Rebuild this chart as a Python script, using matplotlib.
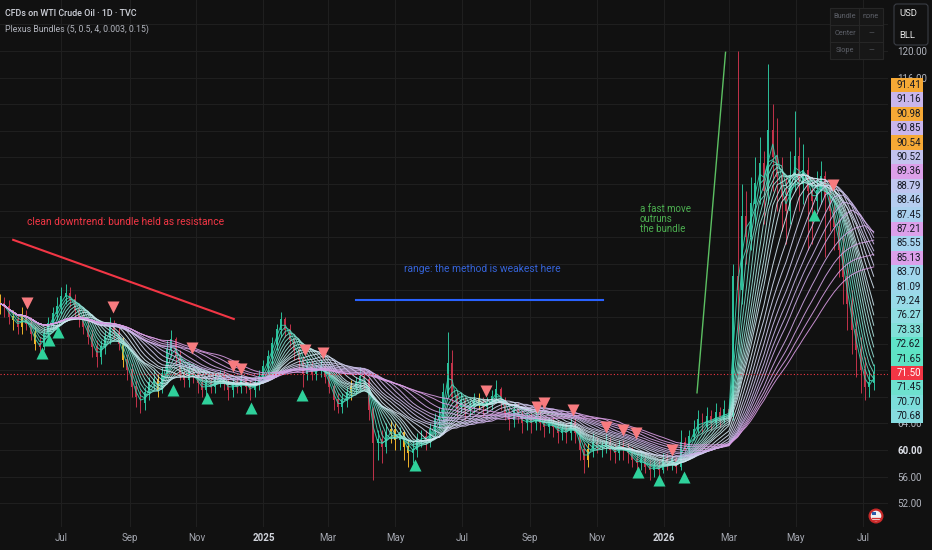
import numpy as np
import pandas as pd
import matplotlib
matplotlib.use("Agg")
import matplotlib.pyplot as plt
import matplotlib.dates as mdates
from matplotlib.colors import LinearSegmentedColormap
from matplotlib.patches import Rectangle, FancyBboxPatch, Circle

plt.rcParams['font.family'] = ['Roboto', 'DejaVu Sans']

# ---- data (one bar every 4 calendar days) ----
start = '2024-05-06'
first_open = 81.5
closes = [
    82, 81.5, 80, 79.5, 78.5, 80, 79, 77.5, 76, 75.5,
    77.5, 79, 80.5, 81.5, 83, 83.5, 82.5, 81, 80, 78.5,
    77, 75.5, 74, 75.5, 77, 78.5, 77.5, 76, 73.5, 72,
    69.5, 68, 67, 68.5, 70, 70.5, 69, 71.5, 75, 76.5,
    74, 71.5, 70.5, 71.5, 71, 70, 69, 70, 69.5, 70.5,
    71, 70, 69, 70, 69.5, 70.5, 69.5, 69, 70, 71,
    72.5, 74, 76, 78, 79.5, 78, 76.5, 75, 73.5, 71.5,
    72.5, 71.5, 72, 72.5, 71, 69.5, 67.5, 66.5, 67.5, 68.5,
    69.5, 70, 71, 70.5, 66, 61, 61.5, 60.5, 62.5, 63,
    61.5, 62.5, 60.5, 59.5, 60, 61.5, 62, 61.5, 63, 64.5,
    65, 68.5, 73, 68, 66.5, 67, 66, 66.5, 67.5, 67,
    66.5, 67, 68, 69, 67, 65.5, 64.5, 66, 65, 64,
    64.5, 64, 65, 64, 63.5, 64, 63.5, 62.5, 63, 62.5,
    64, 62.5, 60, 58.5, 60, 61, 60.5, 60.5, 61, 60,
    59.5, 60.5, 60, 59.5, 58.5, 58, 58.5, 57.5, 57, 57.5,
    57, 58.5, 58, 58.5, 57.5, 61, 60, 62, 63, 64.5,
    63.5, 65, 64, 65.5, 64.5, 66, 65, 86, 84, 95,
    92, 97, 100, 103, 99, 108, 104, 101, 98, 96,
    101, 104, 100, 102, 99, 97.5, 99, 101, 98, 96,
    93.5, 90, 86, 82, 78, 75, 72, 69.5, 70, 71.5]
highs = [
    83.5, 83, 82.5, 81, 80.5, 81.5, 81, 80, 78.5, 77,
    78.5, 80, 81.5, 83, 84.5, 85, 84.5, 83.5, 82, 81,
    79.5, 78, 76.5, 76.5, 78, 80, 79.5, 78.5, 77, 74.5,
    73, 70.5, 69, 69.5, 71, 72, 71.5, 72.5, 76.5, 78,
    77, 75, 72.5, 73, 72.5, 72, 71, 71, 71, 71.5,
    72, 72, 71, 71, 71, 71.5, 71, 70.5, 71, 72,
    73.5, 75, 77, 79, 80.7, 80, 79, 77, 75.5, 74,
    73.5, 73.5, 73, 73.5, 73, 72, 70, 68.5, 68.5, 69.5,
    70.5, 71, 72.5, 72, 71, 66.5, 63, 63, 64, 64.5,
    64, 63.5, 63, 61.5, 61.5, 62.5, 63, 63, 64, 65.5,
    66.5, 70, 77.7, 75, 69, 68.5, 68, 67.5, 68.5, 68.5,
    68, 68, 69, 70.5, 69.5, 68, 66.5, 67, 67, 66,
    65.5, 65.5, 66, 66, 65, 65, 65, 64.5, 64, 64,
    65, 65, 63, 61, 61, 62.5, 62, 61.5, 62.5, 62,
    61, 61.5, 61.5, 61, 60.5, 59.5, 59.5, 59.5, 58.5, 58.5,
    58.5, 59.5, 59.5, 60, 59, 63, 62, 63, 64.5, 66,
    65.5, 66.5, 66, 67, 66.5, 67.5, 67, 88, 120, 100,
    99, 101, 104, 107, 105, 118, 112, 110, 104, 101,
    105, 111, 107, 106, 104, 101, 102, 103.5, 102, 99.5,
    97, 95, 92, 88, 84, 80, 77, 74, 72, 73]
lows = [
    80.5, 80, 79, 78, 77.5, 77.5, 78, 76.5, 75, 74.5,
    75, 76.5, 78, 79.5, 80.5, 82, 81.5, 80, 78.5, 77.5,
    76, 74, 72.5, 73, 74.5, 76, 76.5, 75, 72.5, 70.5,
    68, 66.5, 65.5, 66, 67.5, 69, 68, 68.5, 71, 74,
    73, 70.5, 69.5, 69.5, 70, 68.5, 68, 68, 68.5, 68.5,
    69.5, 69, 67.5, 68, 68.5, 68.5, 68.5, 67.5, 68, 69,
    70, 71.5, 73, 75, 77, 77, 75.5, 73.5, 72, 69.5,
    70.5, 70.5, 70.5, 71, 70, 68.5, 66, 65.5, 65.5, 66.5,
    67.5, 68.5, 69, 69, 64.5, 55.5, 58.5, 58, 59.5, 61,
    60, 60, 58.5, 57.5, 58, 59, 60.5, 60, 60.5, 62,
    63.5, 64.5, 68, 67, 65, 65.5, 64.5, 65, 65.5, 66,
    65, 65.5, 66, 67, 66, 64.5, 63, 63.5, 64, 62.5,
    63, 62.5, 63, 63, 62, 62.5, 62, 61, 61.5, 61,
    61.5, 61, 58.5, 56.5, 57.5, 59, 59.5, 59, 59.5, 58.5,
    58, 58.5, 58.5, 58, 57.5, 56.5, 57, 56.5, 55.5, 56,
    56, 56.5, 57, 57, 56.5, 57, 59, 59.5, 61.5, 62.5,
    62.5, 63, 63, 63.5, 63.5, 64, 64, 64.5, 76, 82,
    88, 90, 94, 97, 94, 97, 99, 96, 93, 91,
    94, 99, 96, 97, 90, 91, 96, 97, 89, 93,
    90, 86, 82, 78, 74.5, 71, 68.5, 67.5, 68, 69]
orange_bars = [0, 3, 5, 8, 28, 36, 80, 89, 90, 92, 93, 109, 134]

sell_dates = ['2024-05-31', '2024-08-17', '2024-10-28', '2024-12-04', '2024-12-12',
              '2025-02-08', '2025-02-24', '2025-07-23', '2025-09-07', '2025-09-14',
              '2025-10-10', '2025-11-09', '2025-11-25', '2025-12-06', '2026-01-08',
              '2026-06-04']
sell_prices = [82.1, 81.5, 75.3, 72.6, 72.2, 75.0, 74.6, 68.9, 66.5, 67.1,
               66.0, 63.5, 63.0, 62.6, 60.0, 99.8]
buy_dates = ['2024-06-13', '2024-06-20', '2024-06-28', '2024-10-11', '2024-11-11',
             '2024-12-21', '2025-02-05', '2025-05-19', '2025-12-08', '2025-12-27',
             '2026-01-19', '2026-05-18']
buy_prices = [74.6, 76.5, 77.7, 69.0, 67.8, 66.3, 68.3, 57.7, 56.7, 55.5, 55.9, 95.3]

sma_lengths = [2, 3, 4, 5, 6, 7, 8, 9, 10, 11, 12, 14, 16, 18, 20, 22, 24, 26, 28, 31, 34, 37, 40]

last_values = ['91.41', '91.16', '90.98', '90.85', '90.54', '90.52', '89.36', '88.79',
               '88.46', '87.45', '87.21', '85.55', '85.13', '83.70', '81.09', '79.24',
               '76.27', '73.33', '72.62', '71.65', '71.50', '71.45', '70.70', '70.68']
last_colors = ['#f6a935', '#c9b6ec', '#f6a935', '#c9b6ec', '#f6a935', '#c3c3ee', '#dca0ea', '#c0c6f0',
               '#b5cdf0', '#a9d0ee', '#dca0ea', '#a5d3ee', '#dca0ea', '#a0d6ec', '#9cd8ea', '#98dbe8',
               '#90dee3', '#82e0d8', '#5fe3c7', '#5ee3c4', '#f23645', '#6ee1cf', '#7cdedb', '#86dce0']

month_ticks = ['2024-07-01', '2024-09-01', '2024-11-01', '2025-01-01', '2025-03-01', '2025-05-01',
               '2025-07-01', '2025-09-01', '2025-11-01', '2026-01-01', '2026-03-01', '2026-05-01',
               '2026-07-01']
month_labels = ['Jul', 'Sep', 'Nov', '2025', 'Mar', 'May', 'Jul', 'Sep', 'Nov', '2026', 'Mar', 'May', 'Jul']
price_ticks = list(range(52, 125, 4))
# tick labels that sit fully under the value-label column are not shown
hidden_ticks = list(range(68, 113, 4))

BG = '#111111'
UP, DOWN, ORANGE = '#2bbf9a', '#c2334a', '#f0b429'

fig = plt.figure(figsize=(9.32, 5.5), dpi=100)
fig.patch.set_facecolor(BG)
ax = fig.add_axes([0, 23 / 550, 888 / 932, 527 / 550])
ax.set_facecolor(BG)

d = lambda s: mdates.date2num(pd.to_datetime(s))
dates = pd.date_range(start, periods=len(closes), freq='4D')
x = mdates.date2num(dates)
c = np.array(closes)
o = np.array([first_open] + closes[:-1])
col = np.where(c >= o, UP, DOWN).astype(object)
col[orange_bars] = ORANGE

# candles
ax.vlines(x, lows, highs, colors=list(col), lw=0.7, zorder=2)
ax.bar(x, np.abs(c - o) + 0.15, bottom=np.minimum(o, c), width=1.8, color=list(col), lw=0, zorder=2)

# bundle of moving averages
cmap = LinearSegmentedColormap.from_list('bundle', ['#35d0ad', '#9fe3da', '#d6e6f2', '#cbb5ea', '#d99be3'])
s = pd.Series(closes)
for k, n in enumerate(sma_lengths):
    ma = s.rolling(n, min_periods=1).mean()
    ax.plot(x, ma, color=cmap(k / (len(sma_lengths) - 1)), lw=0.7, alpha=0.9, zorder=3)

# signals
ax.scatter(d(sell_dates), sell_prices, marker='v', s=75, color='#f77b7f', lw=0, zorder=5)
ax.scatter(d(buy_dates), buy_prices, marker='^', s=75, color='#2fd19b', lw=0, zorder=5)

# last price line
ax.axhline(closes[-1], color='#f23645', lw=0.8, ls=(0, (1, 2)), zorder=4)

# drawings
ax.plot([d('2024-05-18'), d('2024-12-05')], [91.6, 79.7], color='#f23645', lw=1.5, zorder=4)
ax.text(d('2024-05-31'), 94.3, 'clean downtrend: bundle held as resistance',
        color='#f23645', fontsize=7.4, va='center', zorder=6)
ax.plot([d('2025-03-26'), d('2025-11-06')], [82.6, 82.6], color='#2962ff', lw=1.5, zorder=4)
ax.text(d('2025-05-09'), 87.2, 'range: the method is weakest here',
        color='#3563d8', fontsize=7.4, va='center', zorder=6)
ax.plot([d('2026-01-31'), d('2026-02-26')], [68.6, 119.8], color='#5cc062', lw=1.0, zorder=4)
ax.text(d('2025-12-10'), 94.7, 'a fast move\noutruns\nthe bundle',
        color='#4caf50', fontsize=7.0, va='center', linespacing=1.0, zorder=6)

# axes styling
ax.set_xlim(d('2024-05-06'), d('2026-07-24'))
ax.set_ylim(48.42, 127.67)
for sp in ax.spines.values():
    sp.set_visible(False)
ax.yaxis.tick_right()
ax.set_yticks(price_ticks, ['' if v in hidden_ticks else f'{v:.2f}' for v in price_ticks])
ax.tick_params(axis='y', length=0, pad=6.5, labelsize=7, labelcolor='#b2b5be')
ax.set_xticks(d(month_ticks), month_labels)
ax.tick_params(axis='x', length=0, pad=4, labelsize=7, labelcolor='#a3a6af')
for lbl in ax.get_xticklabels():
    if lbl.get_text() in ('2025', '2026'):
        lbl.set_fontweight('bold')
        lbl.set_color('#d1d4dc')
for lbl in ax.get_yticklabels():
    if lbl.get_text() == '60.00':
        lbl.set_fontweight('bold')
        lbl.set_color('#e0e3eb')
ax.grid(True, color='#1f1f1f', lw=0.8, zorder=0)
ax.set_axisbelow(True)

# overlay in pixel coordinates
ov = fig.add_axes([0, 0, 1, 1], zorder=10)
ov.set_xlim(0, 932)
ov.set_ylim(550, 0)
ov.axis('off')

ov.text(5, 14, 'CFDs on WTI Crude Oil · 1D · TVC', fontsize=6.4, color='#d1d4dc',
        fontweight='medium', va='center')
ov.text(5, 29, 'Plexus Bundles (5, 0.5, 4, 0.003, 0.15)', fontsize=6.3, color='#b2b5be', va='center')

# status table
ov.add_patch(Rectangle((830, 8), 53, 51, fc='#171717', ec='#262626', lw=0.8))
ov.plot([859, 859], [8, 59], color='#262626', lw=0.8)
ov.plot([830, 883], [25, 25], color='#262626', lw=0.8)
ov.plot([830, 883], [42, 42], color='#262626', lw=0.8)
for yy, a, b in [(16.5, 'Bundle', 'none'), (33.5, 'Center', '—'), (50.5, 'Slope', '—')]:
    ov.text(845, yy, a, fontsize=5.3, color='#5d6068', ha='center', va='center')
    ov.text(871, yy, b, fontsize=5.3, color='#5d6068', ha='center', va='center')

# currency box
ov.add_patch(FancyBboxPatch((894, 4), 34, 41, boxstyle='round,pad=0,rounding_size=3',
                            fc=BG, ec='#3a3d45', lw=0.8))
ov.text(899, 14, 'USD', fontsize=6.8, color='#e6e6e6', va='center')
ov.text(899, 35, 'BLL', fontsize=6.8, color='#e6e6e6', va='center')

# bundle last-value labels
for k, (txt, colr) in enumerate(zip(last_values, last_colors)):
    yc = 85 + k * 14.4
    ov.add_patch(Rectangle((891, yc - 7.2), 32, 14.4, fc=colr, lw=0))
    ov.text(921, yc, txt, ha='right', va='center', fontsize=7,
            color='white' if colr == '#f23645' else '#131722')

# flag icon
ov.add_patch(Circle((876, 516), 7.5, fc='#c62828', lw=0))
ov.add_patch(Circle((876, 516), 5.3, fc='#f0f0f0', lw=0))
ov.add_patch(Rectangle((871.5, 511.5), 4.5, 3.5, fc='#2a5caa', lw=0))
ov.plot([871.5, 880.5], [517.5, 517.5], color='#d32f2f', lw=0.9)
ov.plot([872, 880], [520, 520], color='#d32f2f', lw=0.9)

fig.savefig('out.png', dpi=100, facecolor=BG)
